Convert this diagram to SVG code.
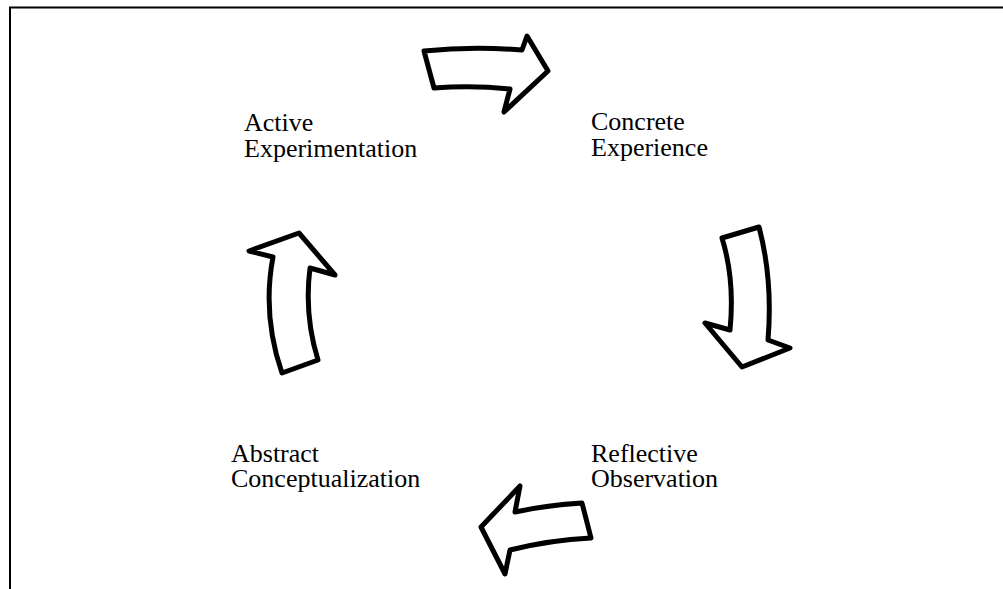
<svg xmlns="http://www.w3.org/2000/svg" width="1003" height="589" viewBox="0 0 1003 589">
<style>
.lbl{font-family:"Liberation Serif","Times New Roman",serif;font-size:26px;fill:#000}
.arr{fill:#fff;stroke:#000;stroke-width:5;stroke-linejoin:round}
</style>
<rect x="0" y="0" width="1003" height="589" fill="#fff"/>
<path d="M10,589 V7.5 H1003" fill="none" stroke="#000" stroke-width="2"/>
<g id="connectors">
<path class="arr" d="M424,51 Q472,46 522,50 L527,36 L548,71 L504,112 L510,89 Q472,85 434,88 Z"/>
<path class="arr" d="M722,238 L759,227 Q773,280 768,340 L790,348 L742,367 L705,323 L730,330 Q735,280 722,238 Z"/>
<path class="arr" d="M520,486 L515,512 Q548,505 582,503 L591,538 Q550,540 510,550 L505,574 L481,527 Z"/>
<path class="arr" d="M282,373 L318,360 Q304,315 310,268 L335,275 L299,233 L249,251 L273,257 Q262,315 282,373 Z"/>
</g>
<g id="ae"><text class="lbl" x="244" y="131">Active</text><text class="lbl" x="244" y="157">Experimentation</text></g>
<g id="ce"><text class="lbl" x="591" y="130">Concrete</text><text class="lbl" x="591" y="156">Experience</text></g>
<g id="ro"><text class="lbl" x="591" y="462">Reflective</text><text class="lbl" x="591" y="487">Observation</text></g>
<g id="ac"><text class="lbl" x="231" y="462">Abstract</text><text class="lbl" x="231" y="487">Conceptualization</text></g>
</svg>
